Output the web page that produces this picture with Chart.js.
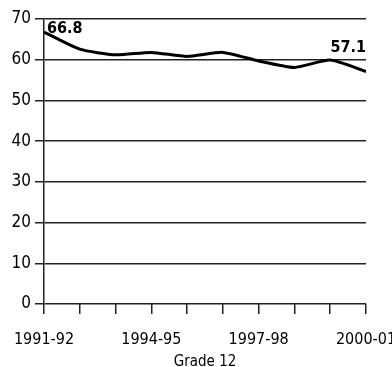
<!DOCTYPE html>
<html><head><meta charset="utf-8">
<script src="https://cdn.jsdelivr.net/npm/chart.js@4/dist/chart.umd.min.js"></script>
<style>html,body{margin:0;padding:0;background:#fff}#wrap{width:392px;height:367px}</style>
</head><body><div id="wrap"><canvas id="c" width="392" height="367"></canvas></div>
<script>
const categories = ['1991-92','1992-93','1993-94','1994-95','1995-96','1996-97','1997-98','1998-99','1999-2000','2000-01'];
const shownLabels = ['1991-92','1994-95','1997-98','2000-01'];
const values = [66.8, 62.6, 61.2, 61.8, 60.8, 61.8, 59.7, 58.1, 59.9, 57.1];
const yTicks = [0,10,20,30,40,50,60,70];
const axisTitle = 'Grade 12';
const labelled = [0, 9];

const FONT = '"DejaVu Sans Condensed", "Liberation Sans", sans-serif';

const valueLabels = {
  id: 'valueLabels',
  afterDatasetsDraw(chart) {
    const ctx = chart.ctx;
    const xs = chart.scales.x, ys = chart.scales.y;
    ctx.save();
    ctx.fillStyle = '#000';
    ctx.font = 'bold 16px ' + FONT;
    ctx.textBaseline = 'alphabetic';
    labelled.forEach(i => {
      const x = xs.getPixelForValue(i), y = ys.getPixelForValue(values[i]);
      const t = values[i].toFixed(1);
      if (i === 0) { ctx.textAlign = 'left'; ctx.fillText(t, x + 3, y + 1); }
      else { ctx.textAlign = 'right'; ctx.fillText(t, x, y - 20); }
    });
    ctx.restore();
  }
};

new Chart(document.getElementById('c'), {
  type: 'line',
  data: { labels: categories, datasets: [{ data: values, borderColor: '#000', borderWidth: 3, tension: 0.2, pointRadius: 0, fill: false }] },
  options: {
    responsive: false, animation: false,
    layout: { padding: { top: 19, right: 26, left: 0, bottom: 0 } },
    plugins: { legend: { display: false }, tooltip: { enabled: false } },
    scales: {
      x: {
        type: 'category', offset: false,
        grid: { drawOnChartArea: false, color: '#222', lineWidth: 1.5, tickLength: 10, tickColor: '#222' },
        border: { display: false },
        ticks: { autoSkip: false, maxRotation: 0, minRotation: 0, padding: 16, color: '#000', font: { family: FONT, size: 16 },
          callback: function(v, i) { const l = categories[i]; return shownLabels.includes(l) ? l : ''; } },
        title: { display: true, text: axisTitle, color: '#000', font: { family: FONT, size: 15 }, padding: { top: 0, bottom: -4 } },
        afterFit(s) { s.height = 63; s.paddingLeft = 0; s.paddingRight = 0; }
      },
      y: {
        min: 0, max: 70,
        afterBuildTicks(s) { s.ticks = yTicks.map(v => ({ value: v })); },
        grid: { color: '#222', lineWidth: 1.5, tickLength: 9 },
        border: { display: true, color: '#222', width: 1.5 },
        ticks: { padding: 4, color: '#000', font: { family: FONT, size: 17 } },
        afterFit(s) { s.width = 44; s.paddingTop = 0; s.paddingBottom = 0; }
      }
    }
  },
  plugins: [valueLabels]
});
</script></body></html>
